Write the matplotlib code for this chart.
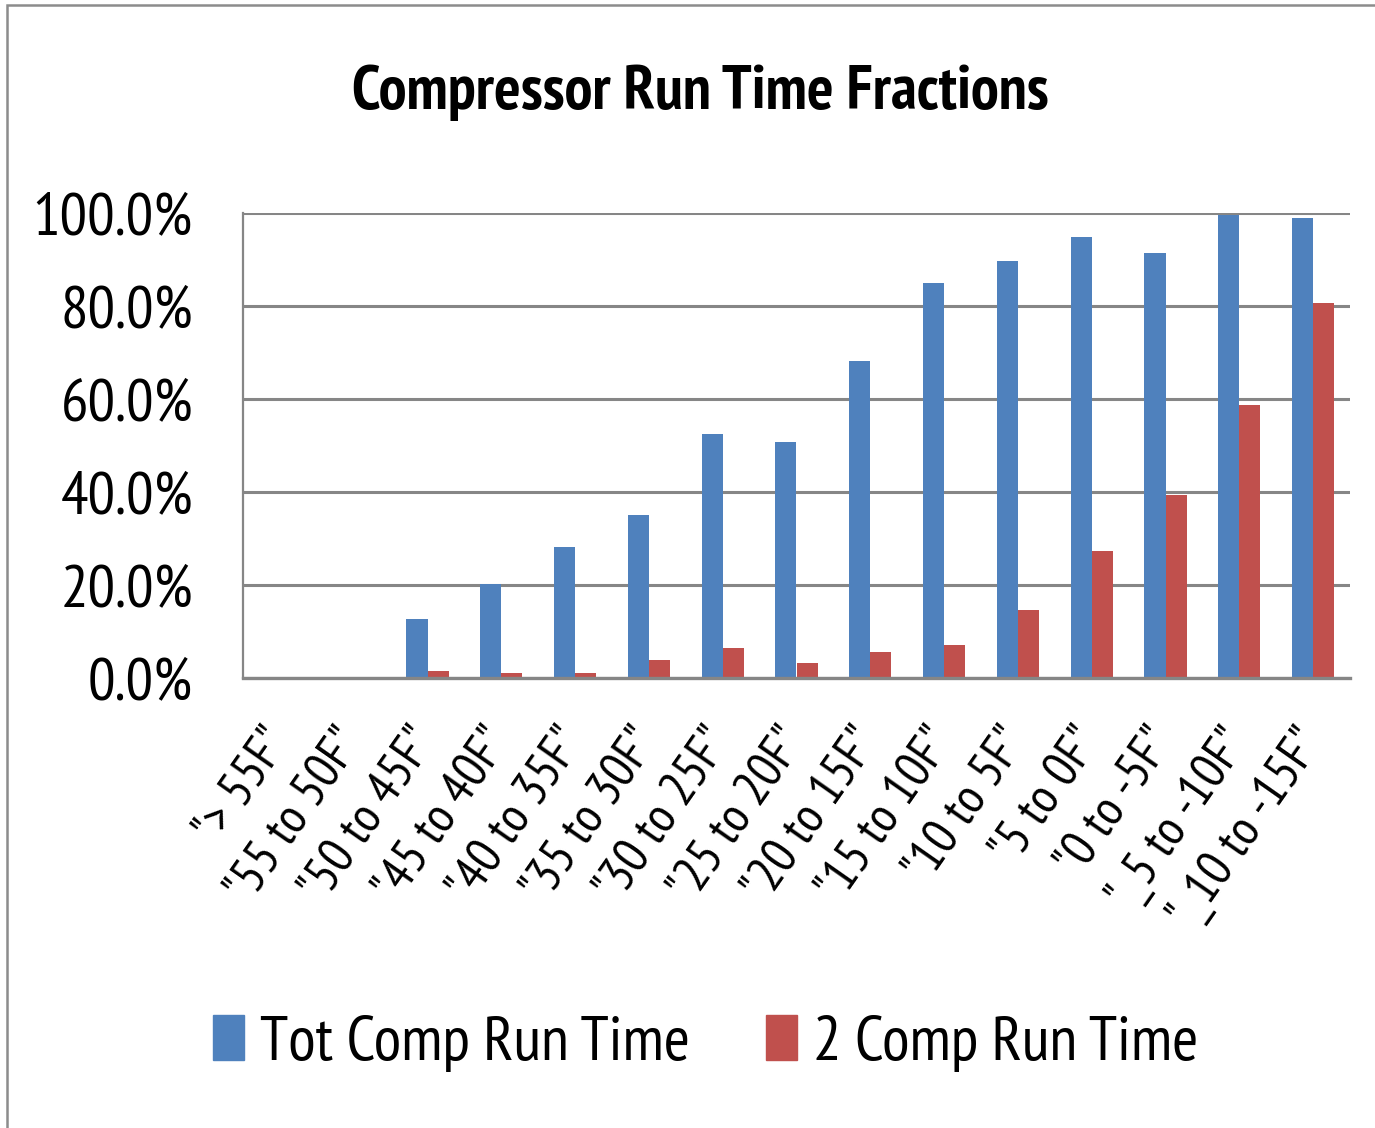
import matplotlib
matplotlib.use("Agg")
import matplotlib.pyplot as plt
from matplotlib.patches import Patch, Rectangle
from matplotlib.ticker import PercentFormatter
import numpy as np

# temperature bins and run time fractions (%)
bins = ['"> 55F"', '"55 to 50F"', '"50 to 45F"', '"45 to 40F"', '"40 to 35F"',
        '"35 to 30F"', '"30 to 25F"', '"25 to 20F"', '"20 to 15F"', '"15 to 10F"',
        '"10 to 5F"', '"5 to 0F"', '"0 to -5F"', '"_5 to -10F"', '"_10 to -15F"']
tot_comp = [0.0, 0.0, 12.7, 20.2, 28.2, 35.1, 52.5, 50.8, 68.2, 84.9,
            89.7, 94.8, 91.4, 99.5, 98.9]
two_comp = [0.0, 0.0, 1.5, 1.1, 1.1, 3.9, 6.5, 3.2, 5.6, 7.1,
            14.6, 27.3, 39.4, 58.7, 80.6]
series_names = ["Tot Comp Run Time", "2 Comp Run Time"]
yticks = [0, 20, 40, 60, 80, 100]

plt.rcParams['font.family'] = ['PT Sans Narrow', 'DejaVu Sans']
blue = "#4F81BD"
red = "#C0504D"
grid_c = "#868686"

W, H = 1375, 1128
fig = plt.figure(figsize=(W / 100, H / 100), dpi=100)

# outer chart frame (only top and left edges fall inside the image)
fig.patches.append(Rectangle((7 / W, -0.1), 1.2, (1128 - 5) / H + 0.1,
                             transform=fig.transFigure, fill=False,
                             edgecolor="#8c8c8c", linewidth=1.8))

ax = fig.add_axes([243 / W, (H - 678) / H, (1350 - 243) / W, (678 - 213) / H])

x = np.arange(len(bins))
bw = 0.285
ax.bar(x - bw / 2, tot_comp, bw, color=blue, label=series_names[0], zorder=3)
ax.bar(x + bw / 2, two_comp, bw, color=red, label=series_names[1], zorder=3)

ax.set_xlim(-0.5, len(bins) - 0.5)
ax.set_ylim(0, 100)
ax.set_yticks(yticks)
ax.yaxis.set_major_formatter(PercentFormatter(decimals=1))
ax.tick_params(axis="y", length=0, pad=36, labelsize=44)
ax.tick_params(axis="x", length=0, pad=40, labelsize=37)
ax.set_xticks(x)
ax.set_xticklabels(bins, rotation=55, ha="right", va="center",
                   rotation_mode="anchor")

ax.grid(axis="y", color=grid_c, linewidth=2.2, zorder=0)
for s in ["top", "right"]:
    ax.spines[s].set_visible(False)
ax.spines["bottom"].set_color(grid_c)
ax.spines["bottom"].set_linewidth(2.4)
ax.spines["bottom"].set_zorder(4)
ax.spines["left"].set_color(grid_c)
ax.spines["left"].set_linewidth(1.6)

fig.text(0.509, (H - 93) / H, "Compressor Run Time Fractions", ha="center",
         va="center", fontsize=45, fontweight="bold")

handles = [Patch(color=blue), Patch(color=red)]
fig.legend(handles, series_names, loc="center", bbox_to_anchor=(0.513, (H - 1043) / H),
           ncol=2, frameon=False, fontsize=45.5, handlelength=0.5, handleheight=0.7,
           handletextpad=0.25, columnspacing=1.2)

fig.savefig("out.png", dpi=100)
